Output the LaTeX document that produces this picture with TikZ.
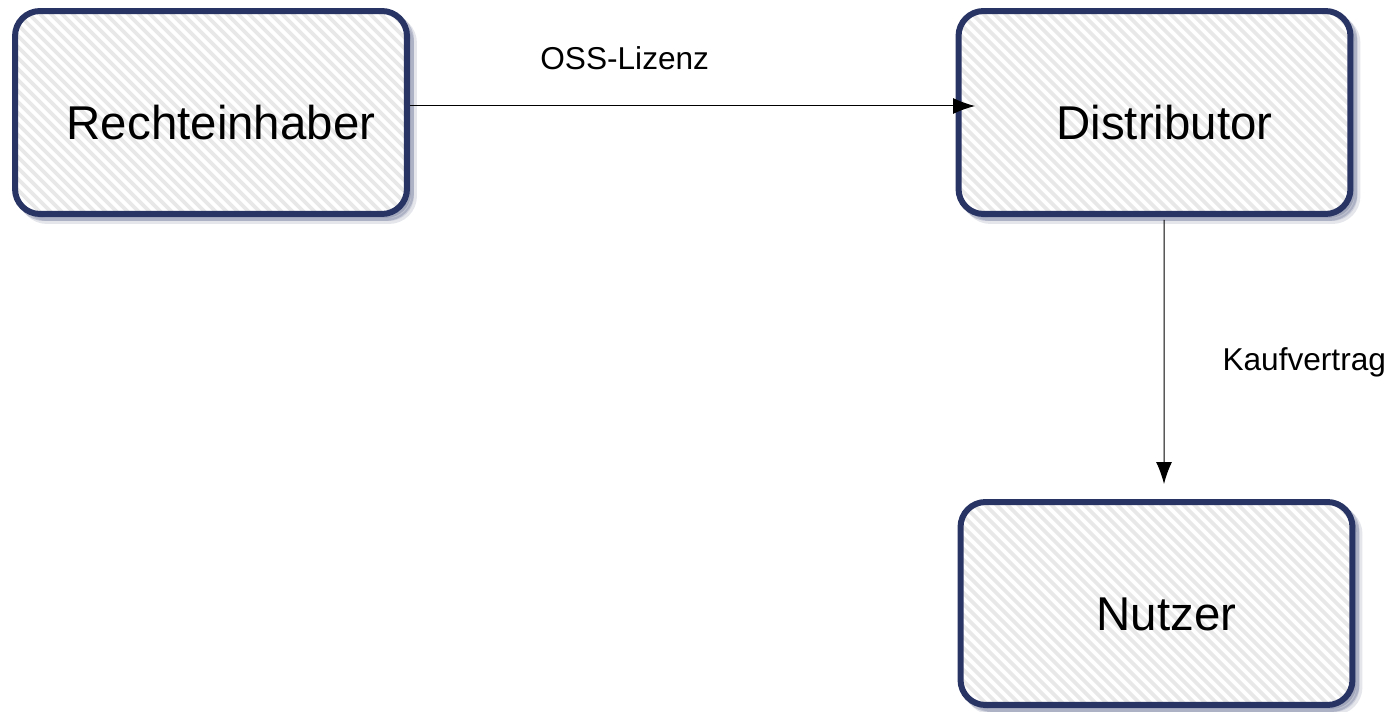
\documentclass[tikz,border=0pt]{standalone}
\usepackage{fontspec}
\setmainfont{Liberation Sans}
\usepackage{tikz}
\usetikzlibrary{positioning,arrows.meta,shadows}

\definecolor{rahmen}{RGB}{40,52,100}
\definecolor{streifen}{RGB}{232,232,232}

\tikzset{
  akteur/.style={rectangle, rounded corners=0.5cm, draw=rahmen, line width=0.12cm,
    minimum width=7.84cm, minimum height=4.06cm,
    drop shadow={shadow xshift=0.14cm, shadow yshift=-0.14cm, opacity=0.12, fill=rahmen, draw=rahmen, line width=0.12cm},
    drop shadow={shadow xshift=0.08cm, shadow yshift=-0.08cm, opacity=0.2, fill=rahmen, draw=rahmen, line width=0.12cm},
    fill=white,
    % diagonale Schraffur
    path picture={
      \foreach \k in {-20,...,37}
        \draw[streifen, line width=0.075cm]
          ([xshift=\k*0.22cm]path picture bounding box.north west) -- ++(4.6cm,-4.6cm);
    },
    font=\fontsize{27}{32}\selectfont, text height=31pt, text depth=0pt,
    execute at begin node=\hspace*{0.4cm}},
  vertrag/.style={-{Latex[length=0.44cm, width=0.32cm]}, line width=0.02cm},
  vlabel/.style={inner sep=0pt, font=\fontsize{18}{22}\selectfont}
}

\begin{document}
\begin{tikzpicture}[x=0.02cm, y=0.02cm]
\useasboundingbox (0,0) rectangle (1392,711);

\node[akteur] (rech) at (211,598.5) {Rechteinhaber};
\node[akteur] (dist) at (1154.5,598.5) {Distributor};
\node[akteur] (nutz) at (1156.5,107.5) {Nutzer};

% Lizenz und Kauf
\draw[vertrag] ([yshift=0.13cm]rech.east) -- ([xshift=0.39cm,yshift=0.13cm]dist.west)
  node[vlabel, pos=0.38, above=0.71cm] {OSS-Lizenz};
\draw[vertrag] ([xshift=0.19cm,yshift=-0.06cm]dist.south) -- ([xshift=0.15cm,yshift=0.3cm]nutz.north)
  node[vlabel, pos=0.54, right=1.16cm] {Kaufvertrag};
\end{tikzpicture}
\end{document}
